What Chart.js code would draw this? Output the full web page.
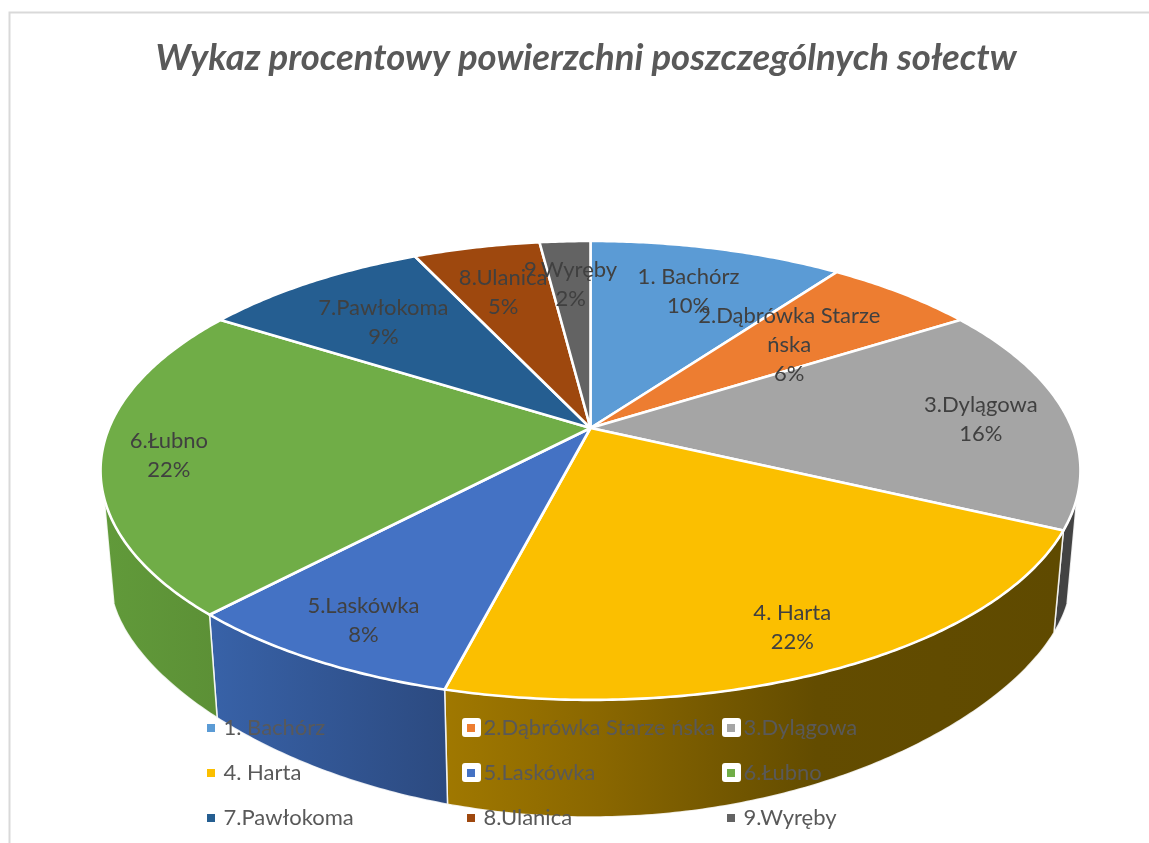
<!DOCTYPE html>
<html>
<head>
<meta charset="utf-8">
<title>Wykaz procentowy</title>
<script src="https://cdn.jsdelivr.net/npm/chart.js@4"></script>
<style>
html, body { margin: 0; padding: 0; background: #fff; overflow: hidden; }
canvas { display: block; }
</style>
</head>
<body>
<canvas id="pieChart" width="1149" height="843"></canvas>
<script>
var categories = ['1. Bachórz', '2.Dąbrówka Starze ńska', '3.Dylągowa', '4. Harta', '5.Laskówka', '6.Łubno', '7.Pawłokoma', '8.Ulanica', '9.Wyręby'];
var shares = [10, 6, 16, 22, 8, 22, 9, 5, 2];
var sliceColors = ['#5B9BD5', '#ED7D31', '#A5A5A5', '#FBBF00', '#4472C4', '#70AD47', '#255E91', '#9E480E', '#636363'];

// how far out along its slice each data label sits (1 = rim)
var labelRadius = [0.745, 0.61, 0.82, 0.845, 0.845, 0.865, 0.715, 0.735, 0.75];

// side wall shading, left to right
var wallStops = {
    2: [[0, '#434343'], [1, '#434343']],
    3: [[0, '#A07800'], [0.25, '#8A6700'], [0.6, '#634C00'], [1, '#5F4A00']],
    4: [[0, '#3862A8'], [1, '#2C4A80']],
    5: [[0, '#619A3A'], [1, '#5C9036']]
};

// legend grid
var legendColumns = [207, 467, 727];
var legendRows = [728, 773, 818];
var legendBoxed = [1, 2, 4, 5];

// the tilted disc: centre of the pie, radii and perspective
var cx = 590.5, cy = 428, rx = 481.5, ry = 221.6, persp = 0.185;
var wallFrom = Math.asin(0.3), wallTo = Math.PI - Math.asin(0.3);

function topPoint(angle, r) {
    var x = r * Math.cos(angle), y = r * Math.sin(angle);
    var w = 1 / (1 - persp * y);
    return { x: cx + rx * x * w, y: cy + ry * y * w };
}

function bottomPoint(angle) {
    var x = Math.cos(angle), y = Math.sin(angle);
    var w = 1 / (1 - persp * y);
    var t = y * w;
    return { x: cx + 0.98 * rx * x * w, y: cy + 119.4 + 163.3 * t + 46 * t * t };
}

function drawWall(ctx, i, start, end) {
    var from = Math.max(start, wallFrom), to = Math.min(end, wallTo);
    if (to <= from) return;
    var steps = Math.ceil((to - from) / 0.01);
    var pts = [], k, a;
    ctx.beginPath();
    for (k = 0; k <= steps; k++) {
        a = from + (to - from) * k / steps;
        pts.push(topPoint(a, 1));
    }
    for (k = steps; k >= 0; k--) {
        a = from + (to - from) * k / steps;
        pts.push(bottomPoint(a));
    }
    var minX = Infinity, maxX = -Infinity;
    pts.forEach(function (p, n) {
        if (n === 0) ctx.moveTo(p.x, p.y); else ctx.lineTo(p.x, p.y);
        minX = Math.min(minX, p.x);
        maxX = Math.max(maxX, p.x);
    });
    ctx.closePath();
    var grad = ctx.createLinearGradient(minX, 0, maxX, 0);
    wallStops[i].forEach(function (s) { grad.addColorStop(s[0], s[1]); });
    ctx.fillStyle = grad;
    ctx.fill();
    ctx.strokeStyle = 'rgba(255,255,255,0.85)';
    ctx.lineWidth = 1.5;
    ctx.stroke();
}

function drawSlice(ctx, i, start, end) {
    var steps = Math.ceil((end - start) / 0.01);
    ctx.beginPath();
    ctx.moveTo(cx, cy);
    for (var k = 0; k <= steps; k++) {
        var p = topPoint(start + (end - start) * k / steps, 1);
        ctx.lineTo(p.x, p.y);
    }
    ctx.closePath();
    ctx.fillStyle = sliceColors[i];
    ctx.fill();
    ctx.strokeStyle = '#fff';
    ctx.lineWidth = 2.6;
    ctx.lineJoin = 'round';
    ctx.stroke();
}

function wrapLabel(ctx, text, maxWidth) {
    var lines = [], line = '';
    text.split(' ').forEach(function (word) {
        var next = line ? line + ' ' + word : word;
        if (line && ctx.measureText(next).width > maxWidth) {
            lines.push(line);
            line = word;
        } else {
            line = next;
        }
    });
    lines.push(line);
    return lines;
}

function drawLabel(ctx, i, arc, total) {
    var mid = (arc.startAngle + arc.endAngle) / 2;
    var p = topPoint(mid, labelRadius[i]);
    var lines = wrapLabel(ctx, categories[i], 195);
    lines.push(Math.round(shares[i] / total * 100) + '%');
    var top = p.y + 2.5 - (lines.length - 1) * 29 / 2;
    lines.forEach(function (line, n) {
        ctx.fillText(line, p.x, top + n * 29);
    });
}

function drawLegend(ctx) {
    ctx.font = '22px Lato';
    ctx.textAlign = 'left';
    ctx.textBaseline = 'middle';
    categories.forEach(function (name, i) {
        var x = legendColumns[i % 3], y = legendRows[Math.floor(i / 3)];
        if (legendBoxed.indexOf(i) >= 0) {
            ctx.fillStyle = '#fff';
            ctx.beginPath();
            ctx.roundRect(x - 5, y - 10, 19, 19, 3);
            ctx.fill();
        }
        ctx.fillStyle = sliceColors[i];
        ctx.fillRect(x, y - 4, 8, 8);
        ctx.fillStyle = '#595959';
        ctx.fillText(name, x + 16.5, y);
    });
}

var tiltedPie = {
    id: 'tiltedPie',
    beforeDraw: function (chart) {
        var ctx = chart.ctx;
        ctx.strokeStyle = '#D9D9D9';
        ctx.lineWidth = 2;
        ctx.beginPath();
        ctx.moveTo(9.5, 843);
        ctx.lineTo(9.5, 12.5);
        ctx.lineTo(1149, 12.5);
        ctx.stroke();
    },
    beforeDatasetsDraw: function (chart) {
        var ctx = chart.ctx;
        var arcs = chart.getDatasetMeta(0).data;
        var total = shares.reduce(function (a, b) { return a + b; }, 0);
        ctx.save();
        arcs.forEach(function (arc, i) { drawWall(ctx, i, arc.startAngle, arc.endAngle); });
        arcs.forEach(function (arc, i) { drawSlice(ctx, i, arc.startAngle, arc.endAngle); });
        ctx.font = '22px Lato';
        ctx.fillStyle = '#404040';
        ctx.textAlign = 'center';
        ctx.textBaseline = 'middle';
        arcs.forEach(function (arc, i) { drawLabel(ctx, i, arc, total); });
        drawLegend(ctx);
        ctx.restore();
        return false;
    }
};

new Chart(document.getElementById('pieChart').getContext('2d'), {
    type: 'pie',
    data: {
        labels: categories,
        datasets: [{
            data: shares,
            backgroundColor: sliceColors
        }]
    },
    options: {
        responsive: false,
        animation: false,
        layout: { padding: { left: 23 } },
        plugins: {
            legend: { display: false },
            tooltip: { enabled: false },
            title: {
                display: true,
                text: 'Wykaz procentowy powierzchni poszczególnych sołectw',
                color: '#595959',
                font: { family: 'Lato', size: 36.5, weight: 'bold', style: 'italic' },
                padding: { top: 36, bottom: 10 }
            }
        }
    },
    plugins: [tiltedPie]
});
</script>
</body>
</html>
